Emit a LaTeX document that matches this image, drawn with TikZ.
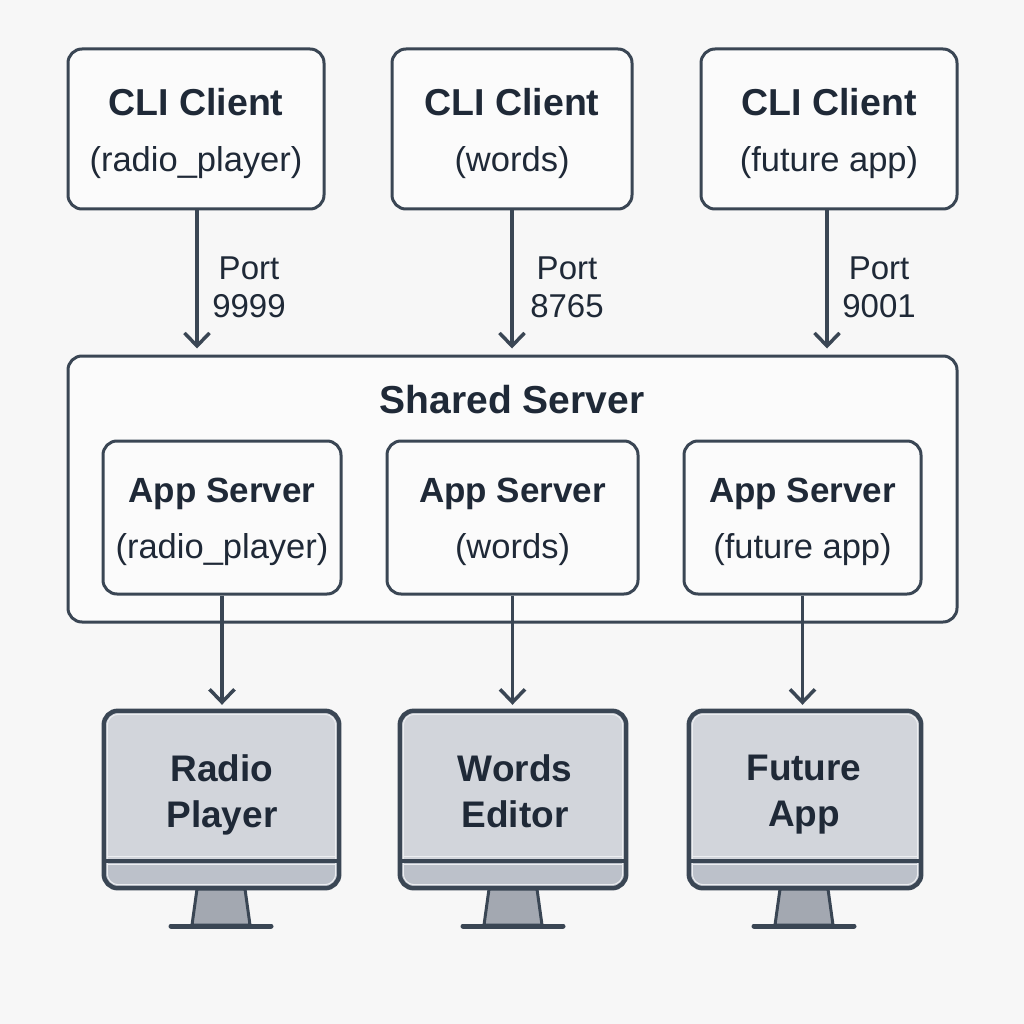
\documentclass[tikz,border=0pt]{standalone}
\usepackage{fontspec}
\setmainfont{Liberation Sans}
\usetikzlibrary{arrows.meta,calc}
\definecolor{bgc}{HTML}{F7F7F7}
\definecolor{ink}{HTML}{3A4654}
\definecolor{txt}{HTML}{1F2937}
\definecolor{boxf}{HTML}{FBFBFB}
\definecolor{scr}{HTML}{D2D5DB}
\definecolor{chin}{HTML}{BCC1CA}
\definecolor{stnd}{HTML}{A3A8B1}
\definecolor{glint}{HTML}{ECEEF1}
\newcommand{\clitxt}[1]{{\bfseries\fontsize{37.5}{40}\selectfont\rule{0pt}{42pt}CLI Client\strut}\\[15pt]{\fontsize{34.5}{40}\selectfont #1\strut}}
\newcommand{\apptxt}[1]{{\bfseries\fontsize{35}{40}\selectfont\rule{0pt}{37pt}App Server\strut}\\[15pt]{\fontsize{34.5}{40}\selectfont #1\strut}}
\tikzset{
 x=1pt,y=-1pt,
 boxn/.style={draw=ink,line width=3pt,fill=boxf,rounded corners=14pt,inner sep=0pt,align=center,text=txt},
 clin/.style={boxn,minimum height=160pt},
 appn/.style={boxn,minimum height=153pt},
 sharedn/.style={boxn},
 titlen/.style={font=\bfseries\fontsize{39}{42}\selectfont,text=txt,inner sep=0pt},
 portn/.style={font=\fontsize{33}{38}\selectfont,text=txt,align=center,inner sep=0pt},
 monn/.style={fill=scr,rounded corners=14pt,minimum height=177pt,inner sep=0pt},
 monline/.style={draw=ink,line width=4.5pt,rounded corners=14pt},
 glintl/.style={draw=glint,line width=1pt},
 montxt/.style={font=\bfseries\fontsize{37}{46}\selectfont,text=txt,align=center,inner sep=0pt},
 arr/.style={draw=ink,line width=3.5pt,-{Straight Barb[length=13pt,width=25pt,line width=3.5pt]}},
 stdl/.style={draw=ink,line width=3pt,line join=round,fill=stnd},
}
\newcommand{\monitor}[7]{% name, centre x, width, label, stand centre, label x, label y
 \node[monn,minimum width=#3pt] (#1) at (#2,799.5) {};
 \begin{scope}
  \clip[rounded corners=14pt] (#1.north west) rectangle (#1.south east);
  \fill[chin] (#1.west |- 0,860) rectangle (#1.south east);
 \end{scope}
 \draw[glintl,rounded corners=11pt] ($(#1.north west)+(3.5,3.5)$) rectangle ($(#1.south east)+(-3.5,-3.5)$);
 \draw[glintl] ($(#1.west |- 0,856.5)+(3,0)$) -- ($(#1.east |- 0,856.5)+(-3,0)$);
 \draw[glintl] ($(#1.west |- 0,864.5)+(3,0)$) -- ($(#1.east |- 0,864.5)+(-3,0)$);
 \draw[ink,line width=4pt] (#1.west |- 0,860.5) -- (#1.east |- 0,860.5);
 \draw[monline] (#1.north west) rectangle (#1.south east);
 \draw[stdl] (#5-24,889) -- (#5+24,889) -- (#5+29,925) -- (#5-29,925) -- cycle;
 \draw[ink,line width=5pt,line cap=round] (#5-50,926) -- (#5+50,926);
 \node[montxt] (#1t) at (#6,#7) {#4};
}
\begin{document}
\begin{tikzpicture}
\useasboundingbox (0,0) rectangle (1024,1024);
\fill[bgc] (0,0) rectangle (1024,1024);
% clients
\node[clin,minimum width=256pt] (c1) at (196,129) {\clitxt{(radio\_player)}};
\node[clin,minimum width=240pt] (c2) at (512,129) {\clitxt{(words)}};
\node[clin,minimum width=256pt] (c3) at (829,129) {\clitxt{(future app)}};
% shared
\node[sharedn,minimum width=889pt,minimum height=266pt] (sh) at (512.5,489) {};
\node[titlen] (sht) at (512,400) {Shared Server};
\node[appn,minimum width=238pt] (a1) at (222,517.5) {\apptxt{(radio\_player)}};
\node[appn,minimum width=251pt] (a2) at (512.5,517.5) {\apptxt{(words)}};
\node[appn,minimum width=237pt] (a3) at (802.5,517.5) {\apptxt{(future app)}};
% monitors
\monitor{m1}{221.5}{235}{Radio\\Player}{221}{222}{795}
\monitor{m2}{513}{226}{Words\\Editor}{513}{515}{791}
\monitor{m3}{805}{232}{Future\\App}{804}{804}{795}
% ports
\coordinate (p1) at (197,209);
\coordinate (p2) at (512,209);
\coordinate (p3) at (827,209);
\draw[arr,shorten >=6pt] (p1) -- (p1 |- sh.north);
\draw[arr,shorten >=6pt] (p2) -- (p2 |- sh.north);
\draw[arr,shorten >=6pt] (p3) -- (p3 |- sh.north);
\node[portn] (l1) at (249,287) {Port\\9999};
\node[portn] (l2) at (567,287) {Port\\8765};
\node[portn] (l3) at (879,287) {Port\\9001};
% outputs
\draw[arr,shorten >=6pt] (a1.south) -- (a1.south |- m1.north);
\draw[arr,shorten >=6pt] (a2.south) -- (a2.south |- m2.north);
\draw[arr,shorten >=6pt] (a3.south) -- (a3.south |- m3.north);
\end{tikzpicture}
\end{document}
